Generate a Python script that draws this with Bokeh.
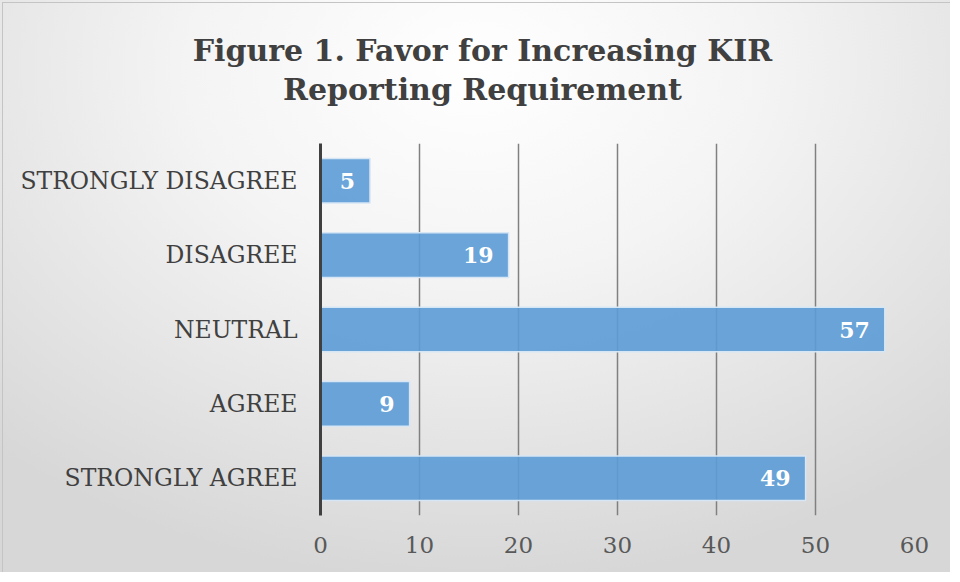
from bokeh.plotting import figure
from bokeh.models import ColumnDataSource, FactorRange, Range1d, FixedTicker, LabelSet, Label
from bokeh.embed import file_html
from bokeh.resources import INLINE
from bokeh.core.properties import value

categories = ["STRONGLY DISAGREE", "DISAGREE", "NEUTRAL", "AGREE", "STRONGLY AGREE"]
counts = [5, 19, 57, 9, 49]
x_ticks = [0, 10, 20, 30, 40, 50, 60]
title_lines = ["Figure 1. Favor for Increasing KIR", "Reporting Requirement"]

FONT = "DejaVu Serif"
W, H = 950, 572
LEFT, RIGHT, TOP, BOTTOM = 320, 36, 143, 57

src = ColumnDataSource(dict(cat=categories, val=counts, lbl=[str(v) for v in counts]))

p = figure(
    width=W, height=H,
    y_range=FactorRange(factors=list(reversed(categories))),
    x_range=Range1d(0, 60),
    output_backend="svg", toolbar_location=None,
    min_border_left=LEFT, min_border_right=RIGHT, min_border_top=TOP, min_border_bottom=BOTTOM,
)

p.background_fill_color = None
p.border_fill_color = None
p.outline_line_color = None
p.styles = {
    "background": (
        "linear-gradient(#c4c4c4,#c4c4c4) 2px 2px / 1px 100% no-repeat, "
        "linear-gradient(#c4c4c4,#c4c4c4) 2px 2px / 100% 1px no-repeat, "
        "radial-gradient(ellipse 75% 90% at 50% 12%, #ffffff 0%, #f4f4f4 40%, #d7d7d7 100%)"
    ),
}

p.hbar(y="cat", right="val", left=0, height=0.6, source=src,
       fill_color="#5b9bd5", fill_alpha=0.9, line_color="#d6e6f5", line_width=1.5)

labels = LabelSet(x="val", y="cat", text="lbl", source=src, x_offset=-15,
                  text_align="right", text_baseline="middle",
                  text_font=value(FONT), text_font_style="bold",
                  text_font_size="22px", text_color="#ffffff")
p.add_layout(labels)

# Title: two centred lines over the whole chart area (placed in the top panel)
frame_w = W - LEFT - RIGHT
frame_h = H - TOP - BOTTOM
px_per_x = frame_w / 60.0
px_per_y = frame_h / len(categories)
title_cx = (W / 2 + 7 - LEFT) / px_per_x
for line, cy in zip(title_lines, [50, 89]):
    p.add_layout(Label(
        x=title_cx, y=len(categories) + (TOP - cy) / px_per_y,
        text=line, text_align="center", text_baseline="middle",
        text_font=FONT, text_font_size="30px", text_font_style="bold",
        text_color="#404040",
    ), "above")

p.xaxis.ticker = FixedTicker(ticks=x_ticks)
p.xaxis.axis_line_color = None
p.xaxis.major_tick_line_color = None
p.xaxis.minor_tick_line_color = None
p.xaxis.major_label_text_font = FONT
p.xaxis.major_label_text_font_size = "23px"
p.xaxis.major_label_text_color = "#595959"
p.xaxis.major_label_standoff = 15

p.yaxis.axis_line_color = "#404040"
p.yaxis.axis_line_width = 3
p.yaxis.major_tick_line_color = None
p.yaxis.minor_tick_line_color = None
p.yaxis.major_label_text_font = FONT
p.yaxis.major_label_text_font_size = "23.5px"
p.yaxis.major_label_text_color = "#404040"
p.yaxis.major_label_standoff = 17

p.xgrid.grid_line_color = "#808080"
p.xgrid.grid_line_width = 1.5
p.xgrid.ticker = FixedTicker(ticks=x_ticks)
p.ygrid.grid_line_color = None

open("out.html", "w").write(file_html(p, INLINE))
